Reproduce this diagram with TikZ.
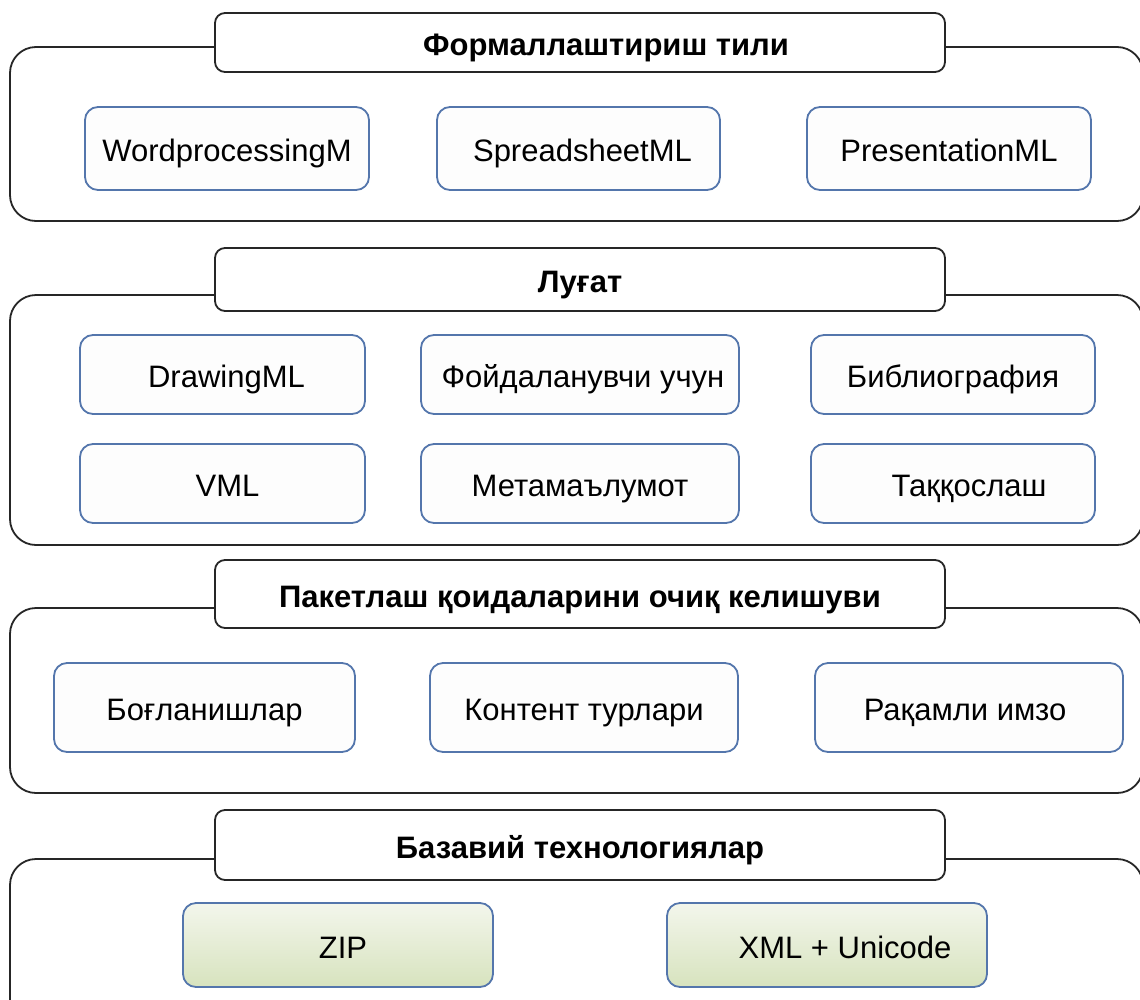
\documentclass[tikz,border=0pt]{standalone}
\usepackage{fontspec}
\setmainfont{Liberation Sans}
\begin{document}
\begin{tikzpicture}[x=1pt,y=-1pt,
  panel/.style={draw=black!85, line width=1.8pt, rounded corners=26pt},
  titlebox/.style={draw=black!85, line width=1.8pt, rounded corners=10pt, fill=white,
    minimum width=730pt, inner sep=0pt, text height=28pt, text depth=2pt,
    font=\fontsize{31}{36}\selectfont\bfseries},
  inbox/.style={draw={rgb,255:red,84;green,118;blue,172}, line width=1.8pt, rounded corners=13pt,
    fill={rgb,255:red,253;green,253;blue,253}, inner sep=0pt, text height=28pt, text depth=2pt,
    font=\fontsize{31}{36}\selectfont},
  greenbox/.style={inbox, top color={rgb,255:red,243;green,246;blue,236},
    bottom color={rgb,255:red,215;green,227;blue,190}}
]
\useasboundingbox (0,0) rectangle (1140,999);
\clip (0,0) rectangle (1140,999);

% Panel 1
\draw[panel] (10,47) rectangle (1143,221);
\node[titlebox, minimum height=59pt] (t1) at (580,42.5) {\hspace*{52pt}Формаллаштириш тили};
\node[inbox, minimum width=284pt, minimum height=83pt] (wp) at (227,148.5) {WordprocessingM};
\node[inbox, minimum width=283pt, minimum height=83pt] (ss) at (578.5,148.5) {\hspace*{8pt}SpreadsheetML};
\node[inbox, minimum width=284pt, minimum height=83pt] (pr) at (949,148.5) {PresentationML};

% Panel 2
\draw[panel] (10,295) rectangle (1143,545);
\node[titlebox, minimum height=63pt] (t2) at (580,279.5) {Луғат};
\node[inbox, minimum width=285pt, minimum height=79pt] (dml) at (222.5,374.5) {\hspace*{8pt}DrawingML};
\node[inbox, minimum width=318pt, minimum height=79pt] (fu) at (580,374.5) {\hspace*{6pt}Фойдаланувчи учун};
\node[inbox, minimum width=284pt, minimum height=79pt] (bib) at (953,374.5) {Библиография};
\node[inbox, minimum width=285pt, minimum height=79pt] (vml) at (222.5,483.5) {\hspace*{10pt}VML};
\node[inbox, minimum width=318pt, minimum height=79pt] (meta) at (580,483.5) {Метамаълумот};
\node[inbox, minimum width=284pt, minimum height=79pt] (taq) at (953,483.5) {\hspace*{32pt}Таққослаш};

% Panel 3
\draw[panel] (10,608) rectangle (1143,793);
\node[titlebox, minimum height=68pt] (t3) at (580,594) {Пакетлаш қоидаларини очиқ келишуви};
\node[inbox, minimum width=301pt, minimum height=89pt] (bog) at (204.5,707.5) {Боғланишлар};
\node[inbox, minimum width=308pt, minimum height=89pt] (kon) at (584,707.5) {Контент турлари};
\node[inbox, minimum width=308pt, minimum height=89pt] (raq) at (969,707.5) {Рақамли имзо\hspace*{8pt}};

% Panel 4
\draw[panel] (10,859) rectangle (1143,1030);
\node[titlebox, minimum height=70pt] (t4) at (580,845) {Базавий технологиялар};
\node[greenbox, minimum width=310pt, minimum height=84pt] (zip) at (338,945) {\hspace*{10pt}ZIP};
\node[greenbox, minimum width=320pt, minimum height=84pt] (xml) at (827,945) {\hspace*{36pt}XML + Unicode};
\end{tikzpicture}
\end{document}
